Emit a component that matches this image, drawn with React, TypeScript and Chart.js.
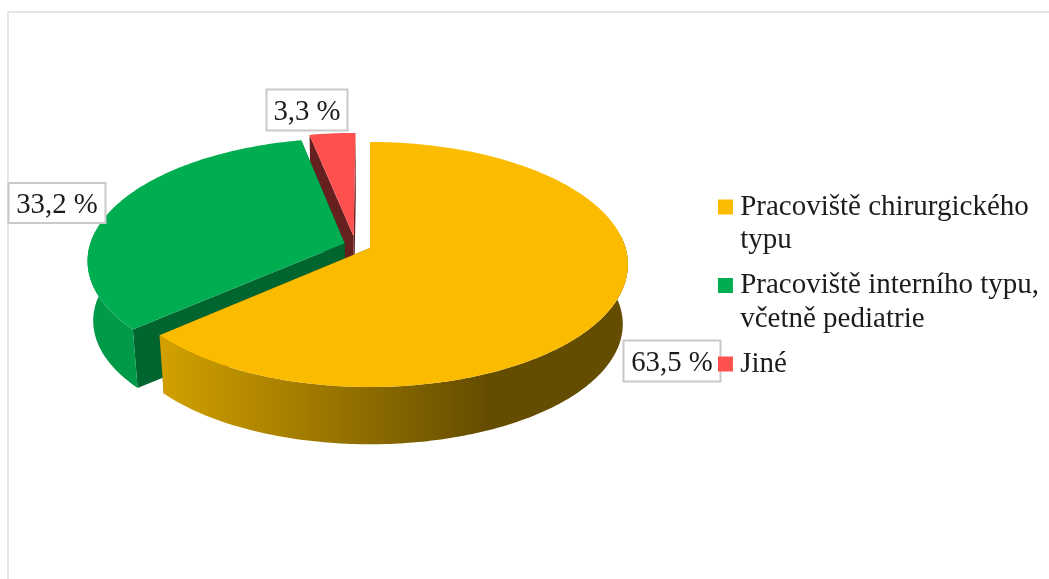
import React, { useEffect, useRef } from "react";
import { Chart, registerables } from "chart.js";

Chart.register(...registerables);

const categories = [
  ["Pracoviště chirurgického", "typu"],
  ["Pracoviště interního typu,", "včetně pediatrie"],
  ["Jiné"],
];
const shares = [63.5, 33.2, 3.3];
const faceColors = ["#FBBC00", "#00AD50", "#FF5050"];
const cutColors = ["#5E4700", "#00652F", "#66201F"];
const rimColors = ["#644C00", "#009A48", "#B03030"];

// Perspective of the pie's top plane and its lower rim.
const WIDTH = 1049;
const HEIGHT = 579;
const APEX_X = 370;
const APEX_Y = 248;
const SCALE_X = 255.6;
const SCALE_Y = 120.3;
const TILT = 0.1347;
const DEPTH = 60;
const BOTTOM_SCALE = 0.98;
// Pull-out of each slice in units of the pie radius.
const explode = [
  [0, 0],
  [-0.1, -0.04],
  [-0.065, -0.098],
];
const labelCenters = [
  [672, 361],
  [57, 203],
  [307, 110],
];
const labelSizes = [
  [97, 41],
  [97, 40],
  [81, 41],
];

type Pt = [number, number];

function project(u: number, v: number, bottom: boolean): Pt {
  const w = 1 - TILT * v;
  const s = bottom ? BOTTOM_SCALE : 1;
  return [
    APEX_X + (SCALE_X * u * s) / w,
    APEX_Y + (bottom ? DEPTH : 0) + (SCALE_Y * v * s) / w,
  ];
}

function arcAngles(start: number, end: number): number[] {
  const steps = Math.max(4, Math.ceil((end - start) * 60));
  const out: number[] = [];
  for (let i = 0; i <= steps; i++) out.push(start + ((end - start) * i) / steps);
  return out;
}

function fillPoly(ctx: CanvasRenderingContext2D, pts: Pt[], fill: string | CanvasGradient) {
  ctx.beginPath();
  pts.forEach(([x, y], i) => (i ? ctx.lineTo(x, y) : ctx.moveTo(x, y)));
  ctx.closePath();
  ctx.fillStyle = fill;
  ctx.fill();
}

const formatShare = (v: number) => `${v.toFixed(1).replace(".", ",")} %`;

const pie3d = {
  id: "pie3d",
  beforeLayout(chart: any) {
    // The legend paints above the value boxes.
    const legend = chart.legend;
    if (legend) {
      legend._layers = () => [{ z: 1, draw: (area: any) => legend.draw(area) }];
    }
  },
  beforeDatasetsDraw(chart: any) {
    const ctx: CanvasRenderingContext2D = chart.ctx;
    const arcs = chart.getDatasetMeta(0).data;
    ctx.save();
    for (let i = arcs.length - 1; i >= 0; i--) {
      const { startAngle, endAngle } = arcs[i];
      const [dx, dy] = explode[i];
      const angles = arcAngles(startAngle, endAngle);
      const at = (a: number, bottom: boolean) =>
        project(dx + Math.cos(a), dy + Math.sin(a), bottom);
      const apexTop = project(dx, dy, false);
      const apexBot = project(dx, dy, true);

      // Radial cut faces first, then the front-facing part of the rim, then the top.
      fillPoly(ctx, [apexTop, at(startAngle, false), at(startAngle, true), apexBot], cutColors[i]);
      fillPoly(ctx, [apexTop, at(endAngle, false), at(endAngle, true), apexBot], cutColors[i]);

      const front = angles.filter((a) => Math.sin(a) > -0.12);
      if (front.length > 1) {
        let rim: string | CanvasGradient = rimColors[i];
        if (i === 0) {
          const g = ctx.createLinearGradient(164, 0, 490, 0);
          g.addColorStop(0, "#D2A000");
          g.addColorStop(1, "#644C00");
          rim = g;
        }
        fillPoly(
          ctx,
          [...front.map((a) => at(a, false)), ...front.slice().reverse().map((a) => at(a, true))],
          rim
        );
      }
      fillPoly(ctx, [apexTop, ...angles.map((a) => at(a, false))], faceColors[i]);
    }

    ctx.font = "28.8px 'Liberation Serif'";
    ctx.textAlign = "center";
    ctx.textBaseline = "middle";
    shares.forEach((v, i) => {
      const [cx, cy] = labelCenters[i];
      const [w, h] = labelSizes[i];
      ctx.fillStyle = "#ffffff";
      ctx.strokeStyle = "#c9c9c9";
      ctx.lineWidth = 2;
      ctx.fillRect(cx - w / 2, cy - h / 2, w, h);
      ctx.strokeRect(cx - w / 2, cy - h / 2, w, h);
      ctx.fillStyle = "#1c1c1c";
      ctx.fillText(formatShare(v), cx, cy + 2);
    });
    ctx.restore();
    return false;
  },
};

export default function App() {
  const ref = useRef<HTMLCanvasElement>(null);

  useEffect(() => {
    const chart = new Chart(ref.current!, {
      type: "pie",
      data: {
        labels: categories as any,
        datasets: [
          {
            data: shares,
            backgroundColor: faceColors,
            borderColor: faceColors,
            borderWidth: 14.5,
          },
        ],
      },
      options: {
        responsive: false,
        animation: false,
        layout: { padding: { top: 181, right: 0, bottom: 0, left: 0 } },
        plugins: {
          tooltip: { enabled: false },
          title: { display: false },
          legend: {
            position: "right",
            align: "start",
            labels: {
              boxWidth: 0.5,
              boxHeight: 0.5,
              padding: 11.5,
              color: "#1c1c1c",
              font: { family: "'Liberation Serif'", size: 29, lineHeight: 1.155 },
            },
          },
        },
      },
      plugins: [pie3d],
    } as any);
    return () => chart.destroy();
  }, []);

  return (
    <div style={{ position: "absolute", left: 0, top: 0, width: WIDTH, height: HEIGHT, background: "#fff", overflow: "hidden" }}>
      <div
        style={{
          position: "absolute",
          left: 7,
          top: 11,
          right: 0,
          bottom: 0,
          borderTop: "2px solid #e3e7eb",
          borderLeft: "2px solid #e3e7eb",
        }}
      />
      <canvas ref={ref} width={WIDTH} height={HEIGHT} style={{ position: "absolute", left: 0, top: 0, display: "block" }} />
    </div>
  );
}
